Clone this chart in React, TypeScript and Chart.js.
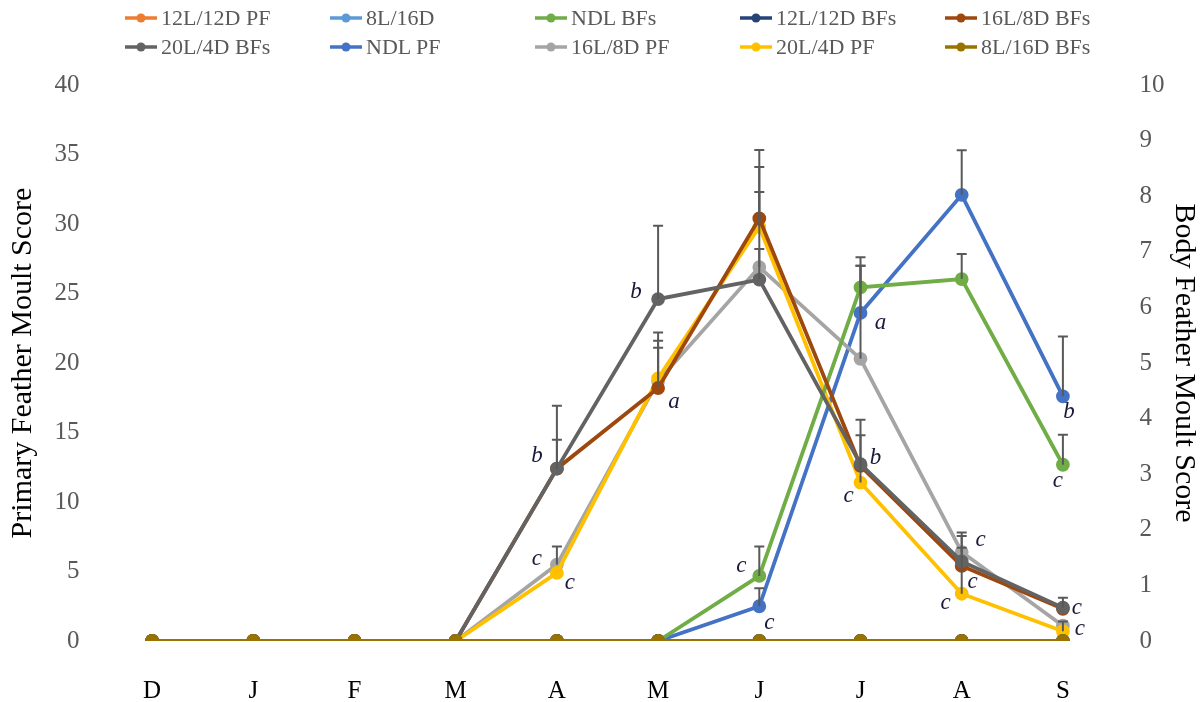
import React, { useEffect, useRef } from "react";
import { Chart, registerables } from "chart.js";

Chart.register(...registerables);

// ---------- data ----------
const months = ["D", "J", "F", "M", "A", "M", "J", "J", "A", "S"];

// Primary feather (left axis, 0-40)
const pf12L12D = [0, 0, 0, 0, 0, 0, 0, 0, 0, 0];
const pf8L16D = [0, 0, 0, 0, 0, 0, 0, 0, 0, 0];
const pfNDL = [0, 0, 0, 0, 0, 0, 2.5, 23.6, 32.1, 17.6];
const pf16L8D = [0, 0, 0, 0, 5.5, 18.7, 26.9, 20.3, 6.4, 1.1];
const pf20L4D = [0, 0, 0, 0, 4.9, 18.9, 29.8, 11.4, 3.4, 0.7];

// Body feather (right axis, 0-10)
const bfNDL = [0, 0, 0, 0, 0, 0, 1.17, 6.36, 6.51, 3.17];
const bf12L12D = [0, 0, 0, 0, 0, 0, 0, 0, 0, 0];
const bf16L8D = [0, 0, 0, 0, 3.1, 4.55, 7.6, 3.15, 1.35, 0.58];
const bf20L4D = [0, 0, 0, 0, 3.1, 6.15, 6.5, 3.18, 1.43, 0.6];
const bf8L16D = [0, 0, 0, 0, 0, 0, 0, 0, 0, 0];

// Upper error bars (same units as the series)
const errNDLPF = [null, null, null, null, null, null, 1.3, 3.4, 3.2, 4.3];
const err16L8DPF = [null, null, null, null, 1.3, 2.4, 5.4, 6.7, 1.4, null];
const err20L4DPF = [null, null, null, null, null, 2.7, 4.3, 3.4, 3.3, 0.7];
const errNDLBF = [null, null, null, null, null, null, 0.53, 0.54, 0.45, 0.54];
const err16L8DBF = [null, null, null, null, 0.52, 1.0, 1.23, null, null, null];
const err20L4DBF = [null, null, null, null, 1.13, 1.32, 0.55, 0.8, 0.46, 0.18];

const leftTicksMax = 40;
const rightTicksMax = 10;

// significance letters: [letter, series label, index, dx, dy]
const letters: [string, string, number, number, number][] = [
  ["b", "20L/4D BFs", 4, -20, -13],
  ["c", "16L/8D PF", 4, -20, -6],
  ["c", "20L/4D PF", 4, 13, 10],
  ["b", "20L/4D BFs", 5, -22, -7],
  ["a", "16L/8D BFs", 5, 16, 14],
  ["c", "NDL BFs", 6, -18, -10],
  ["c", "NDL PF", 6, 10, 17],
  ["a", "NDL PF", 7, 20, 10],
  ["b", "20L/4D BFs", 7, 15, -6],
  ["c", "20L/4D PF", 7, -12, 13],
  ["c", "16L/8D PF", 8, 19, -12],
  ["c", "16L/8D BFs", 8, 11, 16],
  ["c", "20L/4D PF", 8, -16, 9],
  ["b", "NDL PF", 9, 6, 16],
  ["c", "NDL BFs", 9, -5, 16],
  ["c", "20L/4D BFs", 9, 14, 0],
  ["c", "20L/4D PF", 9, 17, -2],
];

type S = {
  label: string;
  color: string;
  data: number[];
  axis: "y" | "y1";
  err: (number | null)[] | null;
  order: number;
};

const series: S[] = [
  { label: "12L/12D PF", color: "#ED7D31", data: pf12L12D, axis: "y", err: null, order: 9 },
  { label: "8L/16D", color: "#5B9BD5", data: pf8L16D, axis: "y", err: null, order: 8 },
  { label: "NDL BFs", color: "#70AD47", data: bfNDL, axis: "y1", err: errNDLBF, order: 4 },
  { label: "12L/12D BFs", color: "#264478", data: bf12L12D, axis: "y1", err: null, order: 3 },
  { label: "16L/8D BFs", color: "#9E480E", data: bf16L8D, axis: "y1", err: err16L8DBF, order: 2 },
  { label: "20L/4D BFs", color: "#636363", data: bf20L4D, axis: "y1", err: err20L4DBF, order: 1 },
  { label: "NDL PF", color: "#4472C4", data: pfNDL, axis: "y", err: errNDLPF, order: 7 },
  { label: "16L/8D PF", color: "#A5A5A5", data: pf16L8D, axis: "y", err: err16L8DPF, order: 6 },
  { label: "20L/4D PF", color: "#FFC000", data: pf20L4D, axis: "y", err: err20L4DPF, order: 5 },
  { label: "8L/16D BFs", color: "#997300", data: bf8L16D, axis: "y1", err: null, order: 0 },
];

const FONT = "'Liberation Serif', 'Times New Roman', serif";

const errorBarPlugin = {
  id: "errorBars",
  afterDatasetsDraw(chart: any) {
    const ctx = chart.ctx;
    ctx.save();
    ctx.strokeStyle = "#595959";
    ctx.lineWidth = 2;
    series.forEach((s, i) => {
      if (!s.err) return;
      const meta = chart.getDatasetMeta(i);
      const scale = chart.scales[s.axis];
      s.err.forEach((e, j) => {
        if (e == null) return;
        const x = meta.data[j].x;
        const y0 = scale.getPixelForValue(s.data[j]);
        const y1 = scale.getPixelForValue(s.data[j] + e);
        ctx.beginPath();
        ctx.moveTo(x, y0);
        ctx.lineTo(x, y1);
        ctx.moveTo(x - 5, y1);
        ctx.lineTo(x + 5, y1);
        ctx.stroke();
      });
    });
    ctx.restore();
  },
};

const lettersPlugin = {
  id: "letters",
  afterDraw(chart: any) {
    const ctx = chart.ctx;
    ctx.save();
    ctx.font = `italic 23px ${FONT}`;
    ctx.fillStyle = "#1a1a3a";
    ctx.textAlign = "center";
    ctx.textBaseline = "middle";
    letters.forEach(([t, lab, j, dx, dy]) => {
      const i = series.findIndex((s) => s.label === lab);
      const meta = chart.getDatasetMeta(i);
      const p = meta.data[j];
      ctx.fillText(t, p.x + dx, p.y + dy);
    });
    ctx.restore();
  },
};

export default function App() {
  const ref = useRef<HTMLCanvasElement>(null);
  useEffect(() => {
    document.body.style.margin = "0";
    const chart = new Chart(ref.current!, {
      type: "line",
      data: {
        labels: months,
        datasets: series.map((s) => ({
          label: s.label,
          data: s.data,
          yAxisID: s.axis,
          borderColor: s.color,
          backgroundColor: s.color,
          pointBackgroundColor: s.color,
          pointBorderColor: s.color,
          borderWidth: 3.8,
          pointRadius: 5,
          tension: 0,
          order: s.order,
        })),
      },
      options: {
        animation: false,
        responsive: false,
        maintainAspectRatio: false,
        layout: { padding: { top: 85, bottom: 0, left: 0, right: 0 } },
        plugins: { legend: { display: false }, tooltip: { enabled: false } },
        scales: {
          x: {
            type: "category",
            offset: true,
            grid: { display: false, drawTicks: false },
            border: { display: false },
            ticks: { padding: 35, color: "#000", font: { family: FONT, size: 25 } },
            afterFit: (s: any) => {
              s.height = 61;
            },
          },
          y: {
            position: "left",
            min: 0,
            max: leftTicksMax,
            grid: { display: false, drawTicks: false },
            border: { display: false },
            ticks: { stepSize: 5, padding: 22, color: "#595959", font: { family: FONT, size: 25 } },
            title: {
              display: true,
              text: "Primary Feather Moult Score",
              color: "#000",
              font: { family: FONT, size: 30 },
              padding: { top: 5, bottom: 0 },
            },
            afterFit: (s: any) => {
              s.width = 101.5;
            },
          },
          y1: {
            position: "right",
            min: 0,
            max: rightTicksMax,
            grid: { display: false, drawTicks: false },
            border: { display: false },
            ticks: { stepSize: 1, padding: 26, color: "#595959", font: { family: FONT, size: 25 } },
            title: {
              display: true,
              text: "Body Feather Moult Score",
              color: "#000",
              font: { family: FONT, size: 30 },
              padding: { top: 0, bottom: 0 },
            },
            afterFit: (s: any) => {
              s.width = 88.5;
            },
          },
        },
      },
      plugins: [errorBarPlugin, lettersPlugin],
    } as any);
    return () => chart.destroy();
  }, []);

  return (
    <div style={{ position: "relative", width: 1202, height: 702, background: "#fff" }}>
      <canvas ref={ref} width={1202} height={702} style={{ position: "absolute", left: 0, top: 0 }} />
      {series.map((s, i) => {
        const col = i % 5;
        const row = Math.floor(i / 5);
        return (
          <div
            key={s.label}
            style={{
              position: "absolute",
              left: 125 + col * 205,
              top: 18 + row * 29 - 14,
              height: 28,
              display: "flex",
              alignItems: "center",
              fontFamily: FONT,
              fontSize: 22,
              color: "#595959",
              whiteSpace: "nowrap",
            }}
          >
            <svg width={32} height={12} style={{ marginRight: 4 }}>
              <line x1={0} y1={6} x2={32} y2={6} stroke={s.color} strokeWidth={3.5} />
              <circle cx={16} cy={6} r={4.5} fill={s.color} />
            </svg>
            <span>{s.label}</span>
          </div>
        );
      })}
    </div>
  );
}
